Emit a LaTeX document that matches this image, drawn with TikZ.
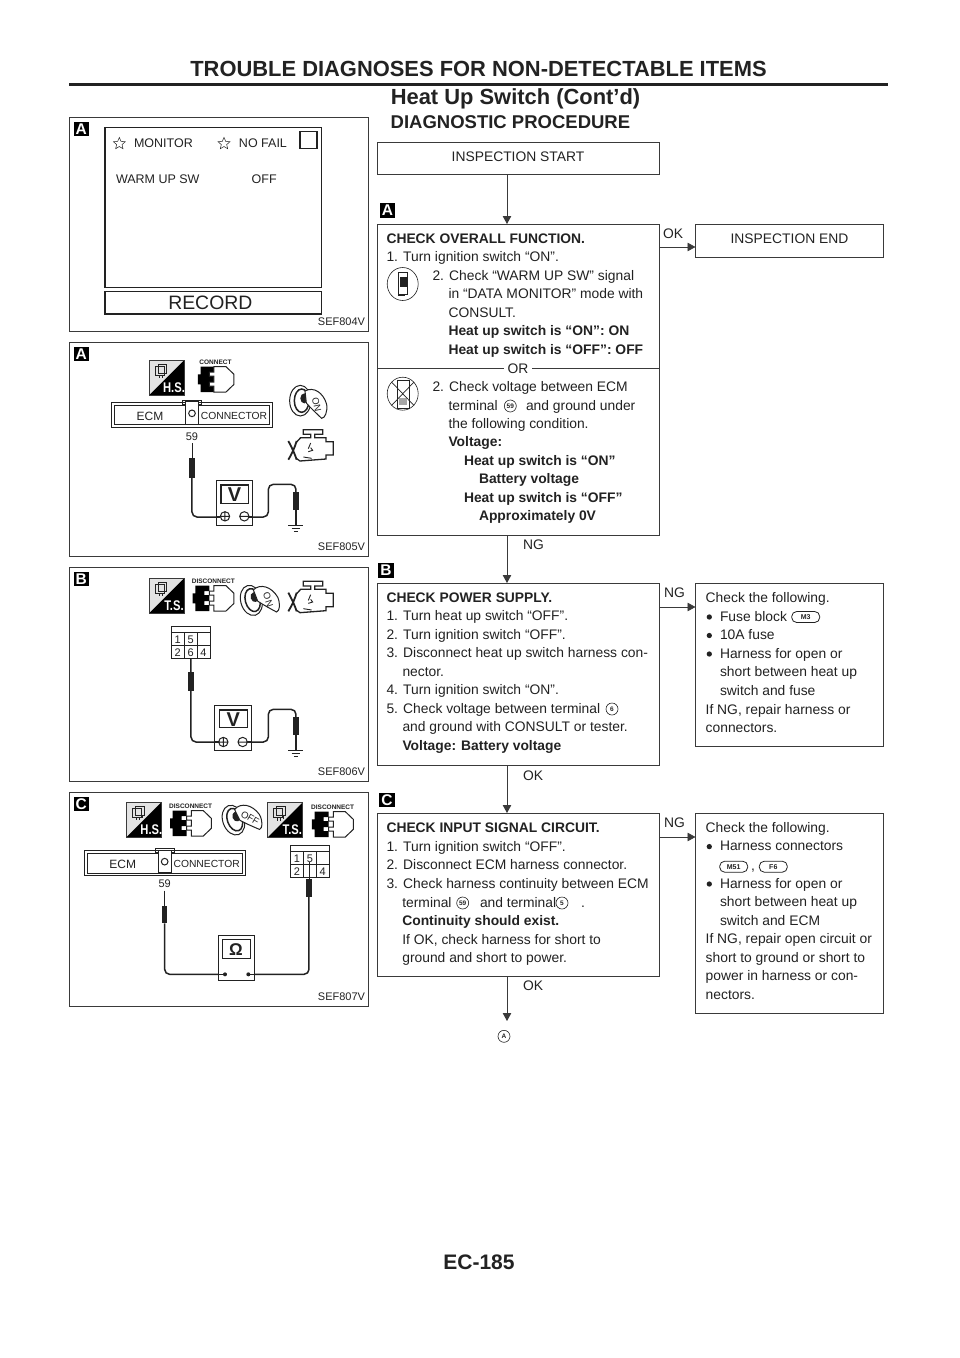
\documentclass[tikz,border=0pt]{standalone}
\usepackage{fontspec}
\setmainfont{Liberation Sans}
\usetikzlibrary{arrows.meta,shapes.geometric}
\definecolor{ink}{HTML}{222222}
\definecolor{rule}{HTML}{3A3A3A}
\tikzset{
  tline/.style={anchor=base west,inner sep=0pt,outer sep=0pt,text=ink,font=\fontsize{13.85}{16}\selectfont},
  bline/.style={tline,font=\fontsize{13.85}{16}\selectfont\bfseries},
  flowbox/.style={draw=rule,line width=0.9pt,anchor=north west,inner sep=0pt,outer sep=0pt,align=center,text=ink,font=\fontsize{13.85}{16}\selectfont,text height=10pt,text depth=4pt},
  flowarrow/.style={draw=rule,line width=0.8pt,-{Triangle[length=8pt,width=8.5pt]}},
  badgebox/.style={fill=black,text=white,inner sep=0pt,outer sep=0pt,minimum width=15.5pt,minimum height=14.5pt,font=\fontsize{15.5}{16}\selectfont\bfseries,anchor=center},
  circnum/.style={draw=ink,circle,line width=0.6pt,minimum size=12pt,inner sep=0pt,text=ink,font=\fontsize{6.5}{7}\selectfont\bfseries},
  pill/.style={draw=ink,line width=0.8pt,rounded corners=5pt,minimum width=28pt,minimum height=11pt,inner sep=0pt,text=ink,font=\fontsize{7}{8}\selectfont\bfseries},
  dotmark/.style={fill=ink,circle,minimum size=5.3pt,inner sep=0pt,outer sep=0pt},
  panelbox/.style={draw=rule,line width=0.8pt},
  figtext/.style={inner sep=0pt,outer sep=0pt,text=ink,font=\fontsize{12.5}{14}\selectfont},
  sefcode/.style={anchor=base east,inner sep=0pt,outer sep=0pt,text=ink,font=\fontsize{11}{12}\selectfont},
  wire/.style={draw=ink,line width=1.5pt,rounded corners=5pt},
  thinwire/.style={draw=ink,line width=0.9pt},
  probe/.style={fill=ink},
  instr/.style={draw=ink,line width=1pt},
}
\newcommand{\myline}[4]{\node[tline] (#1) at (#2,#3) {#4};}
\newcommand{\mybold}[4]{\node[bline] (#1) at (#2,#3) {#4};}
\newcommand{\mybullet}[2]{\node[dotmark] (#1) at (709.3,#2-4) {};}
\newcommand{\groundsym}[2]{%
  \draw[instr] (#1-23,#2) -- (#1+22,#2);
  \draw[instr] (#1-13,#2+10) -- (#1+12,#2+10);
  \draw[instr] (#1-6,#2+20) -- (#1+5,#2+20);}
\newcommand{\ecmconn}[3]{%
  \begin{scope}[shift={(#2,#3)}]
    \draw[instr,fill=white] (213,-7) rectangle (269,5);
    \draw[instr,line width=1.3pt] (0,0) rectangle (483,75);
    \draw[instr] (8,8) rectangle (475,67);
    \draw[instr,fill=white] (223,-2) rectangle (260,65);
    \draw[instr] (241,33) circle [radius=10];
    \node[figtext,font=\fontsize{12}{14}\selectfont] (#1ecm) at (115,41) {ECM};
    \node[figtext,font=\fontsize{10.3}{12}\selectfont] (#1con) at (367,41) {CONNECTOR};
  \end{scope}}
\newcommand{\cellconn}[4]{%
  \begin{scope}[shift={(#2,#3)}]
    \draw[instr,line width=.7pt] (0,0) rectangle (116,97);
    \draw[instr,line width=.7pt] (0,18) -- (116,18);
    \draw[instr,line width=.7pt] (0,58) -- (116,58);
    \draw[instr,line width=.7pt] (38,18) -- (38,97);
    \draw[instr,line width=.7pt] (78,18) -- (78,97);
    \node[figtext,font=\fontsize{11}{12}\selectfont] (#1a) at (19,40) {1};
    \node[figtext,font=\fontsize{11}{12}\selectfont] (#1b) at (58,40) {5};
    \node[figtext,font=\fontsize{11}{12}\selectfont] (#1c) at (19,79) {2};
    \node[figtext,font=\fontsize{11}{12}\selectfont] (#1d) at (58,79) {#4};
    \node[figtext,font=\fontsize{11}{12}\selectfont] (#1e) at (96,79) {4};
  \end{scope}}
\newcommand{\hstag}[4]{%
  \begin{scope}[shift={(#2,#3)}]
    \fill[gray!22] (0,0) -- (104,0) -- (0,104) -- cycle;
    \fill[black] (104,0) -- (104,104) -- (0,104) -- cycle;
    \draw[rule,line width=.6pt] (0,0) rectangle (104,104);
    \draw[ink,line width=.55pt] (18,18) rectangle (44,44) (26,12) rectangle (52,38) (30,44) -- (30,54) (38,44) -- (38,54) (46,38) -- (46,48);
    \node[inner sep=0pt,text=white,xscale=.8,font=\fontsize{14}{15}\selectfont\bfseries] (#1) at (74,81) {#4};
  \end{scope}}
\newcommand{\plugicon}[5]{%
  \begin{scope}[shift={(#2,#3)}]
    \node[inner sep=0pt,text=ink,font=\fontsize{6.5}{7}\selectfont\bfseries] (#1) at ({62+0.6*(#5)},-50) {#4};
    \fill[black] (0,-15) -- (8,-15) -- (8,-38) -- (50,-38) -- (50,-22) -- (35,-22) -- (35,-10) -- (50,-10) -- (50,8) -- (35,8) -- (35,20) -- (50,20) -- (50,38) -- (8,38) -- (8,15) -- (0,15) -- cycle;
    \draw[ink,line width=1pt,fill=white,shift={(#5,0)}] (64,-38) -- (100,-38) -- (124,-15) -- (124,15) -- (100,38) -- (64,38) -- (64,20) -- (50,20) -- (50,8) -- (64,8) -- (64,-10) -- (50,-10) -- (50,-22) -- (64,-22) -- cycle;
  \end{scope}}
% key: #1 name, #2 #3 place, #4 text, #5 turn of the whole key, #6 turn of the text
\newcommand{\keyicon}[6]{%
  \begin{scope}[shift={(#2,#3)},rotate=#5]
    \draw[ink,line width=1pt,fill=white] (-24,-3) ellipse [x radius=32,y radius=46];
    \draw[ink,line width=1.5pt,fill=white] (-20,-3) ellipse [x radius=22,y radius=35];
    \fill[ink] (-12,-10) ellipse [x radius=12,y radius=15];
    \draw[ink,line width=1pt,fill=white] (-10,-32) .. controls (15,-46) and (45,-28) .. (55,8) .. controls (58,30) and (50,50) .. (40,50) .. controls (25,36) and (6,18) .. (-6,4) -- cycle;
    \node[inner sep=0pt,text=ink,rotate=#6,font=\fontsize{9.5}{10}\selectfont] (#1) at (25,8) {#4};
  \end{scope}}
\newcommand{\engineicon}[2]{%
  \begin{scope}[shift={(#1,#2)}]
    \draw[ink,line width=1.3pt] (20,-25) -- (32,-38) -- (62,-38) -- (62,-48) -- (40,-48) -- (40,-62) -- (98,-62) -- (98,-48) -- (74,-48) -- (74,-38) -- (108,-38) -- (108,-26) -- (130,-26) -- (130,14) -- (108,14) -- (108,26) -- (30,32) -- (20,25);
    \draw[ink,line width=1.8pt] (-5,-28) .. controls (5,-10) and (15,12) .. (20,28);
    \draw[ink,line width=1.8pt] (-5,28) .. controls (5,12) and (15,-10) .. (20,-28);
    \draw[ink,line width=.9pt] (55,-5) -- (62,-22) (62,-8) -- (68,0) -- (55,4) (40,20) -- (65,24);
  \end{scope}}
\begin{document}
\begin{tikzpicture}[x=1pt,y=-1pt]
\useasboundingbox[fill=white] (0,0) rectangle (960,1358);

% ---- header and footer ----
\node[anchor=base,inner sep=0pt,text=ink,font=\fontsize{21.9}{24}\selectfont\bfseries] (title) at (478.5,76.5) {TROUBLE DIAGNOSES FOR NON-DETECTABLE ITEMS};
\draw[ink,line width=3.4pt] (69,84.2) -- (888,84.2);
\node[anchor=base,inner sep=0pt,text=ink,font=\fontsize{21.9}{24}\selectfont\bfseries] (subtitle) at (515.5,104.5) {Heat Up Switch (Cont’d)};
\node[anchor=base west,inner sep=0pt,text=ink,font=\fontsize{18.5}{20}\selectfont\bfseries] (proc) at (390.5,128.5) {DIAGNOSTIC PROCEDURE};
\node[anchor=base,inner sep=0pt,text=ink,font=\fontsize{21}{24}\selectfont\bfseries] (page) at (479,1269.5) {EC-185};

% ---- flow boxes ----
\node[flowbox,minimum width=282pt,minimum height=32.5pt] (start) at (377,142) {INSPECTION START};
\node[flowbox,minimum width=282pt,minimum height=311pt,text height=0pt,text depth=0pt] (boxa) at (377,224) {};
\node[flowbox,minimum width=188pt,minimum height=33pt] (end) at (695.5,224) {INSPECTION END};
\node[flowbox,minimum width=282pt,minimum height=182pt,text height=0pt,text depth=0pt] (boxb) at (377,583) {};
\node[flowbox,minimum width=188pt,minimum height=163pt,text height=0pt,text depth=0pt] (chk1) at (695.5,583.5) {};
\node[flowbox,minimum width=282pt,minimum height=163pt,text height=0pt,text depth=0pt] (boxc) at (377,813) {};
\node[flowbox,minimum width=188pt,minimum height=200pt,text height=0pt,text depth=0pt] (chk2) at (695.5,813.5) {};
\coordinate (refa) at (507,1021);
\node[circnum] (circa) at (504,1036.3) {A};

% ---- connectors ----
\draw[flowarrow] ([xshift=130pt]start.south west) -- ([xshift=130pt]boxa.north west);
\draw[flowarrow] ([xshift=130pt]boxa.south west) -- ([xshift=130pt]boxb.north west);
\draw[flowarrow] ([xshift=130pt]boxb.south west) -- ([xshift=130pt]boxc.north west);
\draw[flowarrow] ([xshift=130pt]boxc.south west) -- (refa);
\draw[flowarrow] ([yshift=-23pt]boxa.north east) -- ([yshift=-23pt]end.north west);
\draw[flowarrow] ([yshift=-24pt]boxb.north east) -- ([yshift=-23.5pt]chk1.north west);
\draw[flowarrow] ([yshift=-24pt]boxc.north east) -- ([yshift=-23.5pt]chk2.north west);

\myline{lok1}{663}{238}{OK}
\myline{lok2}{523}{549.5}{NG}
\myline{lng1}{664}{597}{NG}
\myline{lok3}{523}{780}{OK}
\myline{lng2}{664}{827}{NG}
\myline{lok4}{523}{990}{OK}

% ---- badges of the flow ----
\node[badgebox] (ba) at (387.5,210.5) {A};
\node[badgebox] (bb) at (386,570.5) {B};
\node[badgebox] (bc) at (387,800) {C};

% ---- box A ----
\mybold{a1}{386.5}{243.3}{CHECK OVERALL FUNCTION.}
\myline{a2}{386.5}{261.7}{1. Turn ignition switch “ON”.}
\myline{a3}{432.5}{280}{2. Check “WARM UP SW” signal}
\myline{a4}{448.5}{298.7}{in “DATA MONITOR” mode with}
\myline{a5}{448.5}{317}{CONSULT.}
\mybold{a6}{448.5}{335.7}{Heat up switch is “ON”: ON}
\mybold{a7}{448.5}{354.3}{Heat up switch is “OFF”: OFF}
\draw[rule,line width=.9pt] (boxa.west |- 0,368) -- (boxa.east |- 0,368);
\node[anchor=base,fill=white,inner xsep=4pt,inner ysep=1pt,text=ink,font=\fontsize{13.85}{16}\selectfont] (aor) at (518,373) {OR};
\myline{a8}{432.5}{391}{2. Check voltage between ECM}
\myline{a9a}{448.5}{410}{terminal}
\node[circnum] (c59a) at (510.3,406) {59};
\myline{a9b}{526}{410}{and ground under}
\myline{a10}{448.5}{428.3}{the following condition.}
\mybold{a11}{448.5}{446.8}{Voltage:}
\mybold{a12}{464}{465.2}{Heat up switch is “ON”}
\mybold{a13}{479}{483.5}{Battery voltage}
\mybold{a14}{464}{502}{Heat up switch is “OFF”}
\mybold{a15}{479}{520.5}{Approximately 0V}
% CONSULT pictograms
\draw[ink,line width=.6pt] (402.7,284) ellipse [x radius=15.5,y radius=16.5];
\draw[ink,line width=.7pt] (398,272) rectangle (407.5,294);
\fill[ink] (400,277) rectangle (407,287);
\fill[ink] (398,294) rectangle (405,296);
\draw[ink,line width=.6pt] (402.7,393.7) ellipse [x radius=15.5,y radius=16.5];
\draw[ink,line width=.6pt] (397,380) rectangle (409,408);
\fill[gray!70] (399,398) rectangle (407,405);
\draw[ink,line width=.7pt] (391.5,382) -- (414,405.5) (414,382) -- (391.5,405.5);

% ---- box B ----
\mybold{b1}{386.5}{602}{CHECK POWER SUPPLY.}
\myline{b2}{386.5}{620.5}{1. Turn heat up switch “OFF”.}
\myline{b3}{386.5}{639}{2. Turn ignition switch “OFF”.}
\myline{b4}{386.5}{657.5}{3. Disconnect heat up switch harness con-}
\myline{b5}{402.5}{676}{nector.}
\myline{b6}{386.5}{694.5}{4. Turn ignition switch “ON”.}
\myline{b7}{386.5}{713}{5. Check voltage between terminal}
\node[circnum] (c6) at (612,709) {6};
\myline{b8}{402.5}{731.5}{and ground with CONSULT or tester.}
\mybold{b9}{402.5}{750}{Voltage: Battery voltage}

% ---- check 1 ----
\myline{k1}{705.7}{602}{Check the following.}
\mybullet{k2}{621}
\myline{k2b}{720}{621}{Fuse block}
\node[pill] (m3) at (805.7,617) {M3};
\mybullet{k3}{639.5}
\myline{k3b}{720}{639.5}{10A fuse}
\mybullet{k4}{658}
\myline{k4b}{720}{658}{Harness for open or}
\myline{k5}{720}{676.7}{short between heat up}
\myline{k6}{720}{695}{switch and fuse}
\myline{k7}{705.7}{714}{If NG, repair harness or}
\myline{k8}{705.7}{732.5}{connectors.}

% ---- box C ----
\mybold{c1}{386.5}{832.7}{CHECK INPUT SIGNAL CIRCUIT.}
\myline{c2}{386.5}{851.2}{1. Turn ignition switch “OFF”.}
\myline{c3}{386.5}{869.8}{2. Disconnect ECM harness connector.}
\myline{c4}{386.5}{888.3}{3. Check harness continuity between ECM}
\myline{c5a}{402.3}{907}{terminal}
\node[circnum] (c59b) at (462.7,903) {59};
\myline{c5b}{480}{907}{and terminal}
\node[circnum] (c5) at (562,903) {5};
\myline{c5c}{581}{907}{.}
\mybold{c6l}{402.3}{925.5}{Continuity should exist.}
\myline{c7}{402.3}{944}{If OK, check harness for short to}
\myline{c8}{402.3}{962.6}{ground and short to power.}

% ---- check 2 ----
\myline{m1}{705.7}{832}{Check the following.}
\mybullet{m2}{850.6}
\myline{m2b}{720}{850.6}{Harness connectors}
\node[pill] (m51) at (733.7,866.7) {M51};
\myline{m3c}{751}{870}{,}
\node[pill] (f6) at (773.3,866.7) {F6};
\mybullet{m4}{888}
\myline{m4b}{720}{888}{Harness for open or}
\myline{m5}{720}{906.5}{short between heat up}
\myline{m6}{720}{925}{switch and ECM}
\myline{m7}{705.7}{943.6}{If NG, repair open circuit or}
\myline{m8}{705.7}{962.2}{short to ground or short to}
\myline{m9}{705.7}{980.8}{power in harness or con-}
\myline{m10}{705.7}{999.3}{nectors.}

% ---- panel 1 ----
\begin{scope}[shift={(60,110)},x=0.33333pt,y=-0.33333pt]
  \draw[panelbox] (28,22) rectangle (925,665);
  \node[badgebox] (p1b) at (64,57.5) {A};
  \draw[instr,line width=1.2pt] (135,52) rectangle (785,532);
  \draw[instr,line width=1.2pt] (720,65) rectangle (771,115);
  \draw[instr,line width=1.2pt] (135,545) rectangle (785,612);
  \node[star,star points=5,star point ratio=2.2,draw=ink,line width=.5pt,minimum size=12.5pt,inner sep=0pt] (p1s1) at (178,101) {};
  \node[figtext,anchor=base west] (p1t1) at (222,113) {MONITOR};
  \node[star,star points=5,star point ratio=2.2,draw=ink,line width=.5pt,minimum size=12.5pt,inner sep=0pt] (p1s2) at (492,101) {};
  \node[figtext,anchor=base west] (p1t2) at (537,113) {NO FAIL};
  \node[figtext,anchor=base west] (p1t3) at (168,219) {WARM UP SW};
  \node[figtext,anchor=base west] (p1t4) at (575,219) {OFF};
  \node[figtext,font=\fontsize{19.4}{22}\selectfont] (p1t5) at (451,579) {RECORD};
  \node[sefcode] (p1c) at (915,645) {SEF804V};
\end{scope}

% ---- panel 2 ----
\begin{scope}[shift={(60,335)},x=0.33333pt,y=-0.33333pt]
  \draw[panelbox] (28,22) rectangle (925,665);
  \node[badgebox] (p2b) at (64,57.5) {A};
  \hstag{p2hs}{268}{76}{H.S.}
  \plugicon{p2con}{414}{133}{CONNECT}{-16}
  \ecmconn{p2e}{155}{202}
  \node[figtext,font=\fontsize{11}{12}\selectfont] (p2n) at (396,305) {59};
  \keyicon{p2k}{745}{200}{ON}{0}{-78}
  \engineicon{690}{346}
  \draw[thinwire] (396,325) -- (396,372);
  \fill[probe] (388,370) rectangle (404,428);
  \draw[wire] (396,428) -- (396,546) -- (482,546);
  \draw[wire] (567,546) -- (625,546) -- (625,448) -- (708,448) -- (708,472);
  \fill[probe] (700,470) rectangle (716,525);
  \draw[thinwire,line width=1.1pt] (708,525) -- (708,570);
  \groundsym{708}{570}
  \draw[instr,fill=white] (470,437) rectangle (578,571);
  \draw[instr,line width=1.2pt] (483,450) rectangle (565,505);
  \node[inner sep=0pt,text=ink,font=\fontsize{20}{22}\selectfont\bfseries] (p2v) at (524,478) {V};
  \draw[instr] (495,544) circle [radius=14] (481,544) -- (509,544) (495,530) -- (495,558);
  \draw[instr] (553,544) circle [radius=14] (539,544) -- (567,544);
  \draw[wire] (481,546) -- (470,546) (567,546) -- (578,546);
  \node[sefcode] (p2c) at (915,645) {SEF805V};
\end{scope}

% ---- panel 3 ----
\begin{scope}[shift={(60,560)},x=0.33333pt,y=-0.33333pt]
  \draw[panelbox] (28,22) rectangle (925,665);
  \node[badgebox] (p3b) at (64,57.5) {B};
  \hstag{p3ts}{268}{55}{T.S.}
  \plugicon{p3con}{398}{115}{DISCONNECT}{0}
  \keyicon{p3k}{598}{118}{ON}{15}{-72}
  \engineicon{690}{126}
  \cellconn{p3x}{334}{198}{6}
  \draw[wire] (393,295) -- (393,546) -- (478,546);
  \fill[probe] (385,335) rectangle (401,392);
  \draw[wire] (562,546) -- (625,546) -- (625,448) -- (708,448) -- (708,472);
  \fill[probe] (700,470) rectangle (716,525);
  \draw[thinwire,line width=1.1pt] (708,525) -- (708,570);
  \groundsym{708}{570}
  \draw[instr,fill=white] (465,437) rectangle (575,572);
  \draw[instr,line width=1.2pt] (478,450) rectangle (562,503);
  \node[inner sep=0pt,text=ink,font=\fontsize{20}{22}\selectfont\bfseries] (p3v) at (520,478) {V};
  \draw[instr] (490,546) circle [radius=14] (476,546) -- (504,546) (490,532) -- (490,560);
  \draw[instr] (548,546) circle [radius=14] (534,546) -- (562,546);
  \draw[wire] (476,546) -- (465,546) (562,546) -- (575,546);
  \node[sefcode] (p3c) at (915,645) {SEF806V};
\end{scope}

% ---- panel 4 ----
\begin{scope}[shift={(60,785)},x=0.33333pt,y=-0.33333pt]
  \draw[panelbox] (28,22) rectangle (925,665);
  \node[badgebox] (p4b) at (64,57.5) {C};
  \hstag{p4hs}{200}{52}{H.S.}
  \plugicon{p4con}{330}{115}{DISCONNECT}{0}
  \keyicon{p4k}{544}{100}{OFF}{20}{-30}
  \hstag{p4ts}{623}{53}{T.S.}
  \plugicon{p4con2}{756}{118}{DISCONNECT}{0}
  \ecmconn{p4e}{73}{197}
  \node[figtext,font=\fontsize{11}{12}\selectfont] (p4n) at (314,296) {59};
  \cellconn{p4x}{692}{180}{}
  \draw[thinwire] (314,317) -- (314,364);
  \fill[probe] (306,362) rectangle (322,415);
  \draw[wire] (314,415) -- (314,568) -- (495,568);
  \draw[wire] (565,568) -- (747,568) -- (747,335);
  \fill[probe] (739,282) rectangle (755,335);
  \draw[thinwire] (747,232) -- (747,282);
  \draw[instr,fill=white] (475,451) rectangle (584,586);
  \draw[instr,line width=1.2pt] (488,463) rectangle (572,520);
  \node[inner sep=0pt,text=ink,font=\fontsize{17}{20}\selectfont\bfseries] (p4v) at (528,494) {Ω};
  \fill[ink] (495,568) circle [radius=6] (565,568) circle [radius=6];
  \draw[wire] (475,568) -- (495,568) (565,568) -- (584,568);
  \node[sefcode] (p4c) at (915,645) {SEF807V};
\end{scope}
\end{tikzpicture}
\end{document}
